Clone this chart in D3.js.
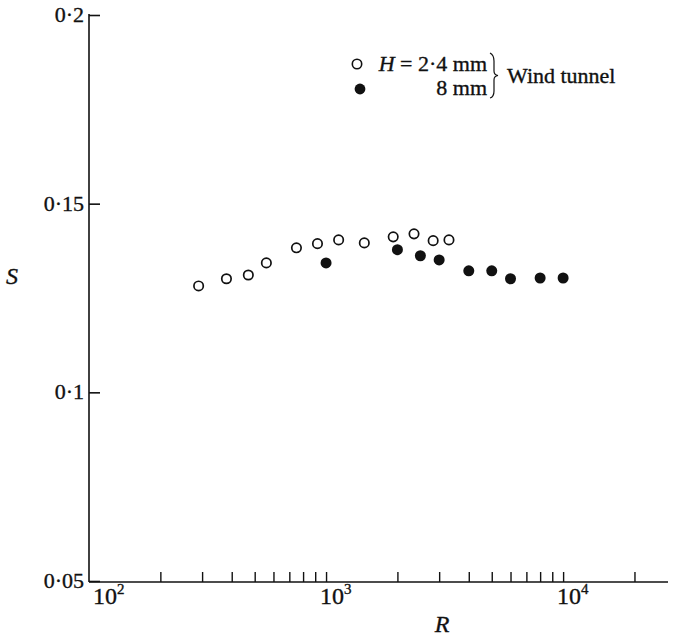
<!DOCTYPE html>
<html>
<head>
<meta charset="utf-8">
<script src="https://cdn.jsdelivr.net/npm/d3@7"></script>
<style>
  html, body { margin: 0; padding: 0; background: #fff; }
  svg { display: block; }
  text { font-family: "Liberation Serif", "DejaVu Serif", serif; fill: #111; stroke: #111; stroke-width: 0.35; }
</style>
</head>
<body>
<svg id="chart" width="673" height="639"></svg>
<script>
// Strouhal number S against Reynolds number R (wind tunnel)
const openR = [290, 380, 470, 560, 750, 920, 1130, 1450, 1920, 2350, 2830, 3300];   // H = 2.4 mm
const openS = [0.1282, 0.1301, 0.1311, 0.1343, 0.1383, 0.1394, 0.1404, 0.1396, 0.1412, 0.1420, 0.1402, 0.1404];
const filledR = [1000, 2000, 2500, 3000, 4000, 5000, 6000, 8000, 10000];            // H = 8 mm
const filledS = [0.1343, 0.1378, 0.1362, 0.1351, 0.1322, 0.1322, 0.1301, 0.1303, 0.1303];

const yTicks = [0.05, 0.1, 0.15, 0.2];
const yTickLabels = ["0·05", "0·1", "0·15", "0·2"];
const xMajor = [100, 1000, 10000];
const xMajorExp = ["2", "3", "4"];
const xMinor = [200, 300, 400, 500, 600, 700, 800, 900,
                2000, 3000, 4000, 5000, 6000, 7000, 8000, 9000, 20000];

const svg = d3.select("#chart");
const x0 = 89, x1 = 668, y0 = 582, yTop = 14;

const x = d3.scaleLog().domain([100, 27700]).range([x0, x1]);
const y = d3.scaleLinear().domain([0.05, 0.2]).range([581, 15]);

const ink = "#111";

// axes frame
svg.append("line").attr("x1", x0).attr("x2", x0).attr("y1", yTop).attr("y2", y0)
  .attr("stroke", ink).attr("stroke-width", 1.6);
svg.append("line").attr("x1", x0).attr("x2", x1).attr("y1", y0).attr("y2", y0)
  .attr("stroke", ink).attr("stroke-width", 1.6);

// y ticks (inward)
const yAxis = d3.axisRight(y).tickValues(yTicks).tickSize(11).tickFormat("");
const gy = svg.append("g").attr("transform", `translate(${x0},0)`).call(yAxis);
gy.select(".domain").remove();
gy.selectAll("line").attr("stroke", ink).attr("stroke-width", 1.6);

svg.selectAll(".ylab").data(yTicks).join("text")
  .attr("class", "ylab")
  .attr("x", x0 - 5)
  .attr("y", d => y(d) + 7)
  .attr("text-anchor", "end")
  .attr("font-size", 22)
  .text((d, i) => yTickLabels[i]);

// x ticks (inward)
const xAxis = d3.axisTop(x).tickValues(xMinor.concat(xMajor.slice(1))).tickSize(10).tickFormat("");
const gx = svg.append("g").attr("transform", `translate(0,${y0})`).call(xAxis);
gx.select(".domain").remove();
gx.selectAll("line").attr("stroke", ink).attr("stroke-width", 1.4);

// x major labels: 10^n
const xl = svg.selectAll(".xlab").data(xMajor).join("text")
  .attr("class", "xlab")
  .attr("x", (d, i) => i === 0 ? x(d) + 4 : x(d) - 6)
  .attr("y", 604)
  .attr("font-size", 24);
xl.append("tspan").text("10");
xl.append("tspan").attr("dy", -10).attr("font-size", 15).text((d, i) => xMajorExp[i]);

// axis titles
svg.append("text").attr("x", 442).attr("y", 632).attr("text-anchor", "middle")
  .attr("font-size", 24).attr("font-style", "italic").text("R");
svg.append("text").attr("x", 12).attr("y", 284).attr("text-anchor", "middle")
  .attr("font-size", 24).attr("font-style", "italic").text("S");

// data
svg.selectAll(".open").data(openR).join("circle")
  .attr("class", "open")
  .attr("cx", d => x(d))
  .attr("cy", (d, i) => y(openS[i]))
  .attr("r", 4.7)
  .attr("fill", "#fff").attr("stroke", ink).attr("stroke-width", 1.7);

svg.selectAll(".filled").data(filledR).join("circle")
  .attr("class", "filled")
  .attr("cx", d => x(d))
  .attr("cy", (d, i) => y(filledS[i]))
  .attr("r", 5.5)
  .attr("fill", ink);

// legend
const lg = svg.append("g");
lg.append("circle").attr("cx", 357).attr("cy", 64).attr("r", 4.7)
  .attr("fill", "#fff").attr("stroke", ink).attr("stroke-width", 1.6);
lg.append("circle").attr("cx", 360).attr("cy", 89).attr("r", 5.4).attr("fill", ink);

const t1 = lg.append("text").attr("x", 487).attr("y", 71).attr("text-anchor", "end").attr("font-size", 22);
t1.append("tspan").attr("font-style", "italic").text("H");
t1.append("tspan").text(" = 2·4 mm");
lg.append("text").attr("x", 487).attr("y", 95).attr("text-anchor", "end").attr("font-size", 22).text("8 mm");

lg.append("path")
  .attr("d", "M490,53 Q494,55 494,61 L494,71 Q494,75 498,75.5 Q494,76 494,80 L494,91 Q494,97 490,98")
  .attr("fill", "none").attr("stroke", ink).attr("stroke-width", 1.2);

lg.append("text").attr("x", 507).attr("y", 83).attr("font-size", 22).text("Wind tunnel");
</script>
</body>
</html>
